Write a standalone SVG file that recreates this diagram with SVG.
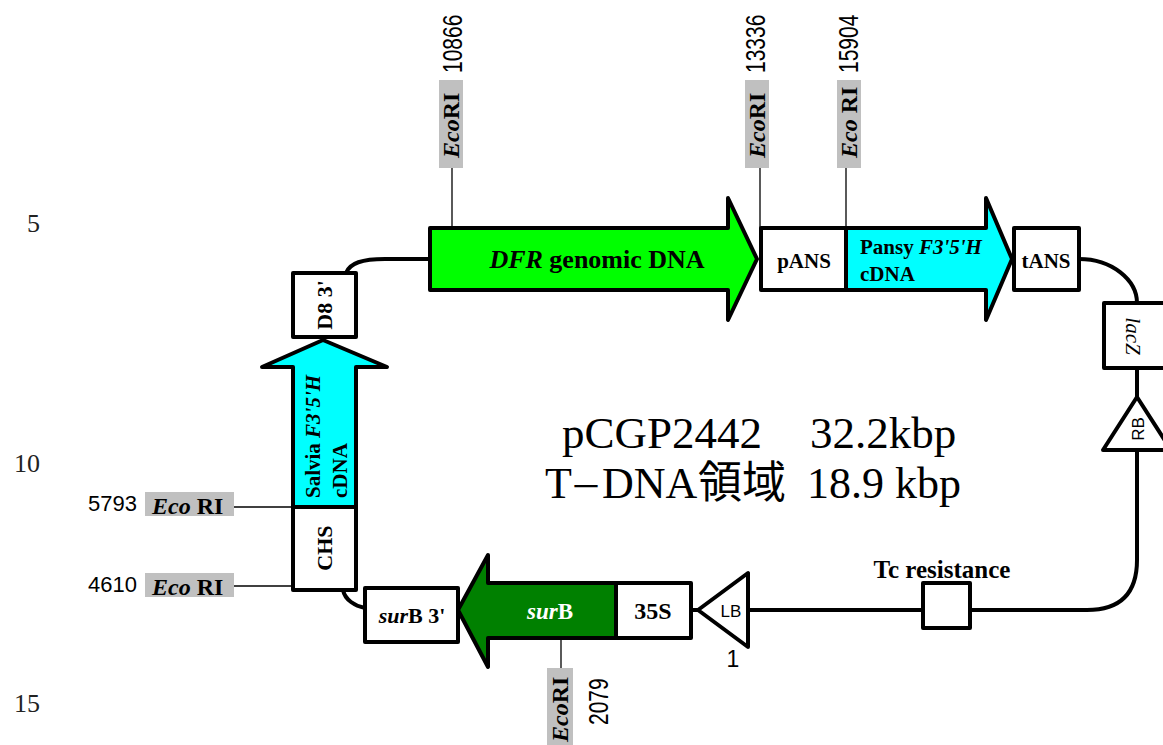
<svg xmlns="http://www.w3.org/2000/svg" width="1163" height="745" viewBox="0 0 1163 745">
<style>
.bb{fill:none;stroke:#000;stroke-width:4;stroke-linejoin:round;stroke-linecap:round}
.box{fill:#fff;stroke:#000;stroke-width:4;stroke-linejoin:round}
.thin{fill:none;stroke:#000;stroke-width:1.3}
.gray{fill:#c0c0c0}
.lbl{font-family:"Liberation Serif",serif;font-weight:bold;font-size:21px;fill:#000}
.it{font-style:italic}
.num{font-family:"Liberation Sans",Arial,sans-serif;font-size:21px;fill:#000}
.eco{font-family:"Liberation Serif",serif;font-weight:bold;font-size:24px;fill:#000}
.side{font-family:"Liberation Serif",serif;font-size:26px;fill:#222}
.big{font-family:"Liberation Serif","Noto Sans CJK JP",serif;font-size:45px;fill:#000}
.sm{font-family:"Liberation Sans",Arial,sans-serif;font-size:17px;fill:#000}
</style>
<rect width="1163" height="745" fill="#fff"/>

<g id="line-numbers">
<text class="side" x="40" y="232" text-anchor="end">5</text>
<text class="side" x="40" y="472" text-anchor="end">10</text>
<text class="side" x="40" y="712" text-anchor="end">15</text>
</g>

<g id="connectors">
<path class="bb" d="M346,273 C350,263 362,259 385,259 L430,259"/>
<path class="bb" d="M1079,259 C1112,259 1137,280 1137,303"/>
<path class="bb" d="M1137,368 L1137,397"/>
<path class="bb" d="M1137,450 L1137,560 Q1137,610 1087,610 L970,610"/>
<path class="bb" d="M923,610 L748,610"/>
<path class="bb" d="M698,610 L691,610"/>
<path class="bb" d="M343,590 C345,600 355,606 365,608"/>
<line class="thin" x1="452" y1="168" x2="452" y2="228"/>
<line class="thin" x1="760" y1="168" x2="760" y2="228"/>
<line class="thin" x1="846" y1="168" x2="846" y2="228"/>
<line class="thin" x1="234" y1="507" x2="293" y2="507"/>
<line class="thin" x1="234" y1="586" x2="293" y2="586"/>
<line class="thin" x1="561" y1="638" x2="561" y2="668"/>
</g>

<g id="dfr">
<polygon points="430,228 728,228 728,198 757,259 728,320 728,290 430,290" fill="#00ff00" stroke="#000" stroke-width="4" stroke-linejoin="round"/>
<text class="lbl" x="597" y="268" text-anchor="middle" style="font-size:26px"><tspan class="it">DFR</tspan> genomic DNA</text>
</g>

<g id="pans">
<rect class="box" x="761" y="228" width="85" height="62"/>
<text class="lbl" x="804" y="268" text-anchor="middle">pANS</text>
</g>

<g id="pansy">
<polygon points="846,228 986,228 986,198 1012,259 986,320 986,290 846,290" fill="#00ffff" stroke="#000" stroke-width="4" stroke-linejoin="round"/>
<text class="lbl" x="860" y="254">Pansy <tspan class="it">F3'5'H</tspan></text>
<text class="lbl" x="860" y="281">cDNA</text>
</g>

<g id="tans">
<rect class="box" x="1014" y="228" width="65" height="62"/>
<text class="lbl" x="1046" y="268" text-anchor="middle">tANS</text>
</g>

<g id="lacz">
<rect class="box" x="1104" y="303" width="66" height="65"/>
<text class="lbl it" transform="translate(1126,336) rotate(90)" text-anchor="middle" style="font-weight:normal">lacZ</text>
</g>

<g id="rb">
<polygon points="1137,397 1171,450 1103,450" fill="#fff" stroke="#000" stroke-width="4" stroke-linejoin="round"/>
<text class="sm" transform="translate(1144,429) rotate(-90)" text-anchor="middle">RB</text>
</g>

<g id="tc">
<rect class="box" x="923" y="583" width="47" height="45"/>
<text class="lbl" x="942" y="578" text-anchor="middle" style="font-size:25px">Tc resistance</text>
</g>

<g id="lb">
<polygon points="698,610 748,573 748,647" fill="#fff" stroke="#000" stroke-width="4" stroke-linejoin="round"/>
<text class="sm" x="731" y="617" text-anchor="middle">LB</text>
<text class="num" x="733" y="667" text-anchor="middle" style="font-size:23px">1</text>
</g>

<g id="p35s">
<rect class="box" x="616" y="583" width="75" height="55"/>
<text class="lbl" x="653" y="619" text-anchor="middle" style="font-size:24px">35S</text>
</g>

<g id="surb">
<polygon points="616,583 488,583 488,555 458,610 488,667 488,638 616,638" fill="#008000" stroke="#000" stroke-width="4" stroke-linejoin="round"/>
<text class="lbl" x="550" y="619" text-anchor="middle" style="font-size:23px;fill:#fff"><tspan class="it">sur</tspan>B</text>
</g>

<g id="surb3">
<rect class="box" x="365" y="588" width="93" height="54"/>
<text class="lbl" x="412" y="623" text-anchor="middle" style="font-size:22px"><tspan class="it">sur</tspan>B 3'</text>
</g>

<g id="chs">
<rect class="box" x="293" y="507" width="63" height="83"/>
<text class="lbl" transform="translate(332,548) rotate(-90)" text-anchor="middle" style="font-size:22px">CHS</text>
</g>

<g id="salvia">
<polygon points="293,507 293,367 262,367 323,340 387,367 356,367 356,507" fill="#00ffff" stroke="#000" stroke-width="4" stroke-linejoin="round"/>
<text class="lbl" transform="translate(320,498) rotate(-90)">Salvia <tspan class="it">F3'5'H</tspan></text>
<text class="lbl" transform="translate(347,498) rotate(-90)">cDNA</text>
</g>

<g id="d8">
<rect class="box" x="293" y="273" width="63" height="64"/>
<text class="lbl" transform="translate(332,305) rotate(-90)" text-anchor="middle" style="font-size:22px">D8 3'</text>
</g>

<g id="eco-10866">
<rect class="gray" x="439" y="80" width="24" height="88"/>
<text class="eco" transform="translate(459,158) rotate(-90)"><tspan class="it">Eco</tspan>RI</text>
<text class="num" transform="translate(462,73) rotate(-90) scale(1,1.3)">10866</text>
</g>
<g id="eco-13336">
<rect class="gray" x="745" y="80" width="24" height="88"/>
<text class="eco" transform="translate(765,158) rotate(-90)"><tspan class="it">Eco</tspan>RI</text>
<text class="num" transform="translate(765,73) rotate(-90) scale(1,1.3)">13336</text>
</g>
<g id="eco-15904">
<rect class="gray" x="837" y="80" width="24" height="88"/>
<text class="eco" transform="translate(857,158) rotate(-90)"><tspan class="it">Eco</tspan> RI</text>
<text class="num" transform="translate(858,73) rotate(-90) scale(1,1.3)">15904</text>
</g>
<g id="eco-5793">
<text class="num" x="88" y="511" style="font-size:22px">5793</text>
<rect class="gray" x="145" y="492" width="89" height="24"/>
<text class="eco" x="152" y="514"><tspan class="it">Eco</tspan> RI</text>
</g>
<g id="eco-4610">
<text class="num" x="88" y="592" style="font-size:22px">4610</text>
<rect class="gray" x="145" y="573" width="89" height="24"/>
<text class="eco" x="152" y="595"><tspan class="it">Eco</tspan> RI</text>
</g>
<g id="eco-2079">
<rect class="gray" x="547" y="668" width="26" height="77"/>
<text class="eco" transform="translate(568,742) rotate(-90)"><tspan class="it">Eco</tspan>RI</text>
<text class="num" transform="translate(608,725) rotate(-90) scale(1,1.3)">2079</text>
</g>

<g id="title">
<text class="big"><tspan x="562" y="448">pCGP2442</tspan><tspan x="810" y="448">32.2kbp</tspan></text>
<text class="big" style="font-size:44px"><tspan x="545" y="498">T</tspan><tspan x="570" y="498" style="font-family:'Noto Sans CJK JP';font-size:32px">－</tspan><tspan x="602" y="498">DNA</tspan><tspan x="698" y="498" style="font-family:'Noto Sans CJK JP'">領域</tspan><tspan x="807" y="498">18.9 kbp</tspan></text>
</g>
</svg>
